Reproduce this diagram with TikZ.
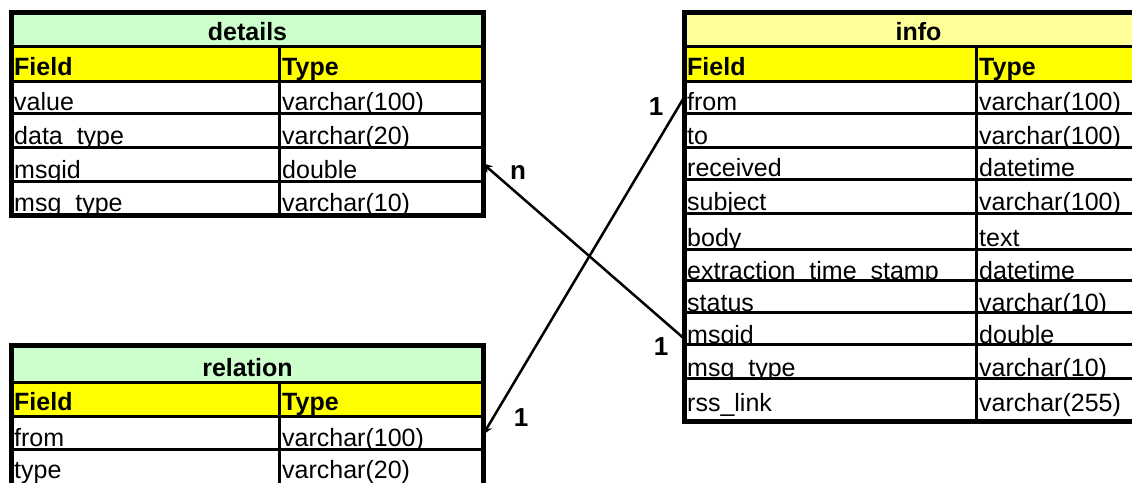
\documentclass[tikz,border=0pt]{standalone}
\usepackage{fontspec}
\setmainfont{Liberation Sans}
\usetikzlibrary{arrows.meta}

\definecolor{titlegreen}{HTML}{CCFFCC}
\definecolor{titlecream}{HTML}{FFFF99}
\definecolor{headyellow}{HTML}{FFFF00}

\tikzset{
  cell/.style={draw=black, line width=3pt, inner sep=0pt, anchor=north west},
  celltext/.style={anchor=base west, inner sep=0pt, font=\fontsize{25}{30}\selectfont},
  titletext/.style={anchor=base, inner sep=0pt, font=\fontsize{25}{30}\selectfont\bfseries},
  frame/.style={draw=black, line width=4pt},
  conn/.style={draw=black, line width=2.5pt, -{Stealth[length=10pt,width=9pt]}, shorten >=-2pt},
  card/.style={inner sep=0pt, font=\fontsize{26}{30}\selectfont\bfseries}
}

% distance of the text baseline above a row's bottom rule
\newcommand\rowlift{5}

% one table row: name, x0, xsplit, x1, ytop, ybottom, fill, field text, type text
\newcommand\dbrow[9]{%
  \pgfmathsetmacro\wf{#3-#2}%
  \pgfmathsetmacro\wt{#4-#3}%
  \pgfmathsetmacro\hh{#6-#5}%
  \node[cell, fill=#7, minimum width=\wf pt, minimum height=\hh pt] (#1-f) at (#2,#5) {};
  \node[cell, fill=#7, minimum width=\wt pt, minimum height=\hh pt] (#1-t) at (#3,#5) {};
  \node[celltext] (#1-fx) at ([xshift=3pt,yshift=\rowlift pt]#1-f.south west) {#8};
  \node[celltext] (#1-tx) at ([xshift=4pt,yshift=\rowlift pt]#1-t.south west) {#9};
}

% title row spanning both columns: name, x0, x1, ytop, ybottom, fill, text
\newcommand\dbtitle[7]{%
  \pgfmathsetmacro\wf{#3-#2}%
  \pgfmathsetmacro\hh{#5-#4}%
  \node[cell, fill=#6, minimum width=\wf pt, minimum height=\hh pt] (#1) at (#2,#4) {};
  \node[titletext] (#1-x) at ([yshift=8pt]#1.south) {#7};
}

\begin{document}
\begin{tikzpicture}[x=1pt, y=-1pt]
\useasboundingbox (0,0) rectangle (1132,482);
\clip (0,0) rectangle (1132,482);
\fill[white] (0,0) rectangle (1132,482);

% ---- details ----
\dbtitle{dtitle}{11}{481}{12}{45}{titlegreen}{details}
\renewcommand\rowlift{8}
\dbrow{dhead}{11}{278}{481}{45}{80}{headyellow}{\bfseries Field}{\bfseries Type}
\renewcommand\rowlift{5}
\dbrow{dvalue}{11}{278}{481}{80}{112}{white}{value}{varchar(100)}
\dbrow{ddtype}{11}{278}{481}{112}{146}{white}{data\_type}{varchar(20)}
\dbrow{dmsgid}{11}{278}{481}{146}{180}{white}{msgid}{double}
\dbrow{dmtype}{11}{278}{481}{180}{213}{white}{msg\_type}{varchar(10)}
\draw[frame] (dtitle.north west) rectangle (dmtype-t.south east);

% ---- relation ----
\dbtitle{rtitle}{11}{481}{345}{381}{titlegreen}{relation}
\renewcommand\rowlift{8}
\dbrow{rhead}{11}{278}{481}{381}{415}{headyellow}{\bfseries Field}{\bfseries Type}
\renewcommand\rowlift{5}
\dbrow{rfrom}{11}{278}{481}{415}{448}{white}{from}{varchar(100)}
\renewcommand\rowlift{11}
\dbrow{rtype}{11}{278}{481}{448}{486}{white}{type}{varchar(20)}
\renewcommand\rowlift{5}
\draw[frame] (rtitle.north west) rectangle (rtype-t.south east);

% ---- info ----
\dbtitle{ititle}{684}{1150}{12}{45}{titlecream}{info}
\renewcommand\rowlift{8}
\dbrow{ihead}{684}{975}{1150}{45}{80}{headyellow}{\bfseries Field}{\bfseries Type}
\renewcommand\rowlift{5}
\dbrow{ifrom}{684}{975}{1150}{80}{112}{white}{from}{varchar(100)}
\dbrow{ito}{684}{975}{1150}{112}{146}{white}{to}{varchar(100)}
\dbrow{irecv}{684}{975}{1150}{146}{178}{white}{received}{datetime}
\dbrow{isubj}{684}{975}{1150}{178}{212}{white}{subject}{varchar(100)}
\dbrow{ibody}{684}{975}{1150}{212}{248}{white}{body}{text}
\renewcommand\rowlift{3}
\dbrow{iext}{684}{975}{1150}{248}{279}{white}{extraction\_time\_stamp}{datetime}
\dbrow{istat}{684}{975}{1150}{279}{311}{white}{status}{varchar(10)}
\dbrow{imsgid}{684}{975}{1150}{311}{343}{white}{msgid}{double}
\renewcommand\rowlift{4}
\dbrow{imtype}{684}{975}{1150}{343}{377}{white}{msg\_type}{varchar(10)}
\renewcommand\rowlift{11}
\dbrow{irss}{684}{975}{1150}{377}{419}{white}{rss\_link}{varchar(255)}
\renewcommand\rowlift{5}
\draw[frame] (ititle.north west) rectangle (irss-t.south east);

% ---- relationships ----
\draw[conn] ([yshift=-10pt]imsgid-f.west) -- (dmsgid-t.east);
\draw[conn] (ifrom-f.west) -- (rfrom-t.east);

\node[card] (cn) at (518,172) {n};
\node[card] (c1a) at (656,107) {1};
\node[card] (c1b) at (661,347) {1};
\node[card] (c1c) at (521,418) {1};
\end{tikzpicture}
\end{document}
